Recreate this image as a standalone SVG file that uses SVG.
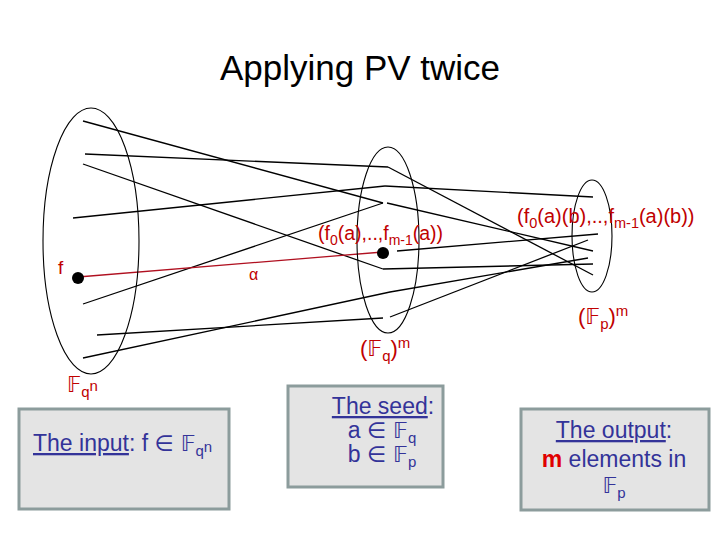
<svg xmlns="http://www.w3.org/2000/svg" width="720" height="540" viewBox="0 0 720 540">
<style>
.ell{fill:none;stroke:#000;stroke-width:1.1}
.ln{fill:none;stroke:#000;stroke-width:1.3}
.red{fill:#c00000;font-family:"Liberation Sans",Arial,sans-serif}
.box{fill:#e4e4e4;stroke:#8c9c9c;stroke-width:3}
.bt{fill:#333399;font-family:"Liberation Sans",Arial,sans-serif;font-size:23px}
.ds{font-family:"DejaVu Sans",sans-serif}
.sm{font-size:22px}
</style>
<rect width="720" height="540" fill="#fff"/>
<text x="360" y="80" text-anchor="middle" font-family="Liberation Sans, Arial, sans-serif" font-size="35" fill="#000">Applying PV twice</text>

<g id="connectors">
<line class="ln" x1="83" y1="121" x2="383" y2="203"/>
<line class="ln" x1="85" y1="154" x2="388" y2="167"/>
<line class="ln" x1="83" y1="164" x2="383" y2="269"/>
<line class="ln" x1="73" y1="218" x2="385" y2="186"/>
<line class="ln" x1="83" y1="304" x2="383" y2="203"/>
<line class="ln" x1="97" y1="335" x2="383" y2="318"/>
<polyline class="ln" points="83,358 390,292 588,258"/>
<line class="ln" x1="388" y1="167" x2="593" y2="275"/>
<line class="ln" x1="385" y1="186" x2="593" y2="197"/>
<line class="ln" x1="387" y1="203" x2="593" y2="251"/>
<line class="ln" x1="397" y1="251" x2="598" y2="234"/>
<line class="ln" x1="383" y1="269" x2="593" y2="264"/>
<line class="ln" x1="390" y1="317" x2="588" y2="240"/>
<line x1="78" y1="277" x2="383" y2="252" stroke="#b01020" stroke-width="1.3"/>
</g>

<g id="set-input">
<ellipse class="ell" cx="91" cy="241" rx="48" ry="133"/>
<text class="red" x="67" y="392" font-size="21"><tspan class="ds">𝔽</tspan><tspan dy="5" font-size="15">q</tspan><tspan dy="-6" font-size="15">n</tspan></text>
</g>
<g id="set-middle">
<ellipse class="ell" cx="388" cy="240" rx="31" ry="93"/>
<text class="red" x="360" y="356" font-size="22">(<tspan class="ds">𝔽</tspan><tspan dy="5" font-size="15">q</tspan><tspan dy="-5">)</tspan><tspan dy="-8" font-size="15">m</tspan></text>
</g>
<g id="set-output">
<ellipse class="ell" cx="592" cy="236" rx="20" ry="56"/>
<text class="red" x="578" y="324" font-size="22">(<tspan class="ds">𝔽</tspan><tspan dy="5" font-size="15">p</tspan><tspan dy="-5">)</tspan><tspan dy="-8" font-size="15">m</tspan></text>
</g>

<g id="point-f">
<circle cx="78" cy="278" r="6" fill="#000"/>
<text class="red" x="58" y="274" font-size="19">f</text>
</g>
<g id="label-alpha">
<text class="red" x="249" y="280" font-size="16">α</text>
</g>
<g id="point-fa">
<circle cx="383" cy="253" r="6" fill="#000"/>
<text class="red" x="318" y="240" font-size="19.5">(f<tspan dy="5" font-size="14">0</tspan><tspan dy="-5">(a),..,f</tspan><tspan dy="5" font-size="14">m-1</tspan><tspan dy="-5">(a))</tspan></text>
</g>
<g id="label-fab">
<text class="red" x="517" y="223" font-size="20">(f<tspan dy="5" font-size="14.5">0</tspan><tspan dy="-5">(a)(b),..,f</tspan><tspan dy="5" font-size="14.5">m-1</tspan><tspan dy="-5">(a)(b))</tspan></text>
</g>

<g id="box-input">
<rect class="box" x="19" y="409" width="210" height="100"/>
<text class="bt" x="33" y="451"><tspan text-decoration="underline">The input</tspan>: f <tspan class="ds sm">∈ 𝔽</tspan><tspan dy="5" font-size="15">q</tspan><tspan dy="-4" font-size="15">n</tspan></text>
</g>
<g id="box-seed">
<rect class="box" x="288" y="386" width="155" height="101"/>
<text class="bt" x="383" y="414" text-anchor="middle"><tspan text-decoration="underline">The seed</tspan>:</text>
<text class="bt" x="382" y="438" text-anchor="middle">a <tspan class="ds sm">∈ 𝔽</tspan><tspan dy="5" font-size="15">q</tspan></text>
<text class="bt" x="382" y="462" text-anchor="middle">b <tspan class="ds sm">∈ 𝔽</tspan><tspan dy="5" font-size="15">p</tspan></text>
</g>
<g id="box-output">
<rect class="box" x="521" y="409" width="188" height="101"/>
<text class="bt" x="614" y="438" text-anchor="middle"><tspan text-decoration="underline">The output</tspan>:</text>
<text class="bt" x="614" y="467" text-anchor="middle"><tspan fill="#e00000" font-weight="bold">m</tspan> elements in</text>
<text class="bt" x="614" y="493" text-anchor="middle"><tspan class="ds sm">𝔽</tspan><tspan dy="5" font-size="15">p</tspan></text>
</g>
</svg>
